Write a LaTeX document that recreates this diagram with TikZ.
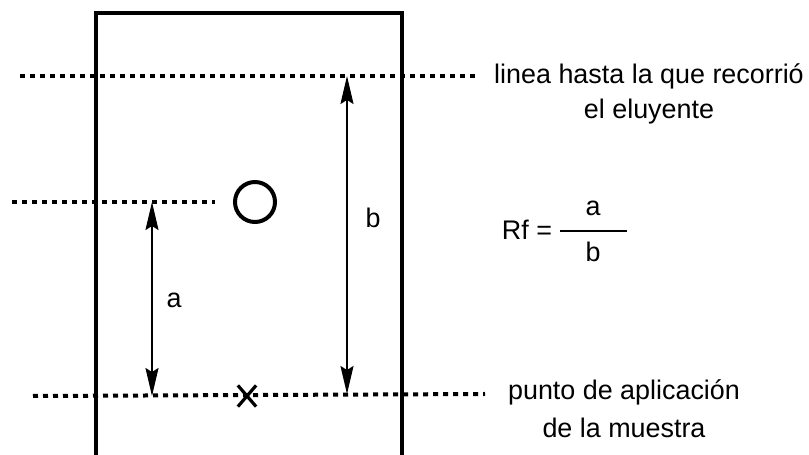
\documentclass[tikz,border=0pt]{standalone}
\usepackage{fontspec}
\setmainfont{Liberation Sans}
\usetikzlibrary{arrows.meta,shapes.misc}
\begin{document}
\begin{tikzpicture}[x=0.5bp,y=-0.5bp,
  frente/.style={line width=2bp,dash pattern=on 2.5bp off 2.5bp},
  placa/.style={line width=1.7bp},
  cota/.style={line width=0.9bp,{Stealth[length=14bp,width=6.5bp,inset=2bp]}-{Stealth[length=14bp,width=6.5bp,inset=2bp]}},
  rotulo/.style={font=\fontsize{13.5}{17.5}\selectfont,inner sep=0pt}]
  \useasboundingbox (0,0) rectangle (809,455);
  % placa
  \coordinate (pii) at (96,455); \coordinate (psi) at (96,13);
  \coordinate (psd) at (402,13); \coordinate (pid) at (402,455);
  \draw[placa] (pii) -- (psi) -- (psd) -- (pid);
  % frente del eluyente, mancha y origen
  \coordinate (fi) at (20,76); \coordinate (fd) at (475,76);
  \coordinate (mi) at (12,202); \coordinate (md) at (215,202);
  \coordinate (oi) at (33,396); \coordinate (od) at (485,394);
  \draw[frente] (fi) -- (fd);
  \draw[frente] (mi) -- (md);
  \draw[frente] (oi) -- (od);
  \node[draw,circle,line width=2bp,minimum size=20bp,inner sep=0pt] (mancha) at (255,202) {};
  \node[draw,cross out,line width=1.6bp,minimum width=7.5bp,minimum height=9bp,inner sep=0pt] (origen) at (247,396) {};
  % distancias
  \coordinate (a1) at (152,202); \coordinate (a0) at (152,396);
  \coordinate (b1) at (347,76); \coordinate (b0) at (347,394);
  \draw[cota] (a1) -- (a0);
  \draw[cota] (b1) -- (b0);
  \node[rotulo] (la) at (174,300) {a};
  \node[rotulo] (lb) at (373,218) {b};
  % textos
  \node[rotulo,align=center] (tfrente) at (649,94) {linea hasta la que recorrió\\el eluyente};
  \node[rotulo,align=center,font=\fontsize{13.5}{19}\selectfont] (torigen) at (624,409) {punto de aplicación\\de la muestra};
  \node[rotulo] (rf) at (527,230) {Rf =};
  \coordinate (fr1) at (560,231); \coordinate (fr2) at (627,231);
  \draw[line width=1.3bp] (fr1) -- (fr2);
  \node[rotulo] (num) at (593,208) {a};
  \node[rotulo] (den) at (593,252) {b};
\end{tikzpicture}
\end{document}
